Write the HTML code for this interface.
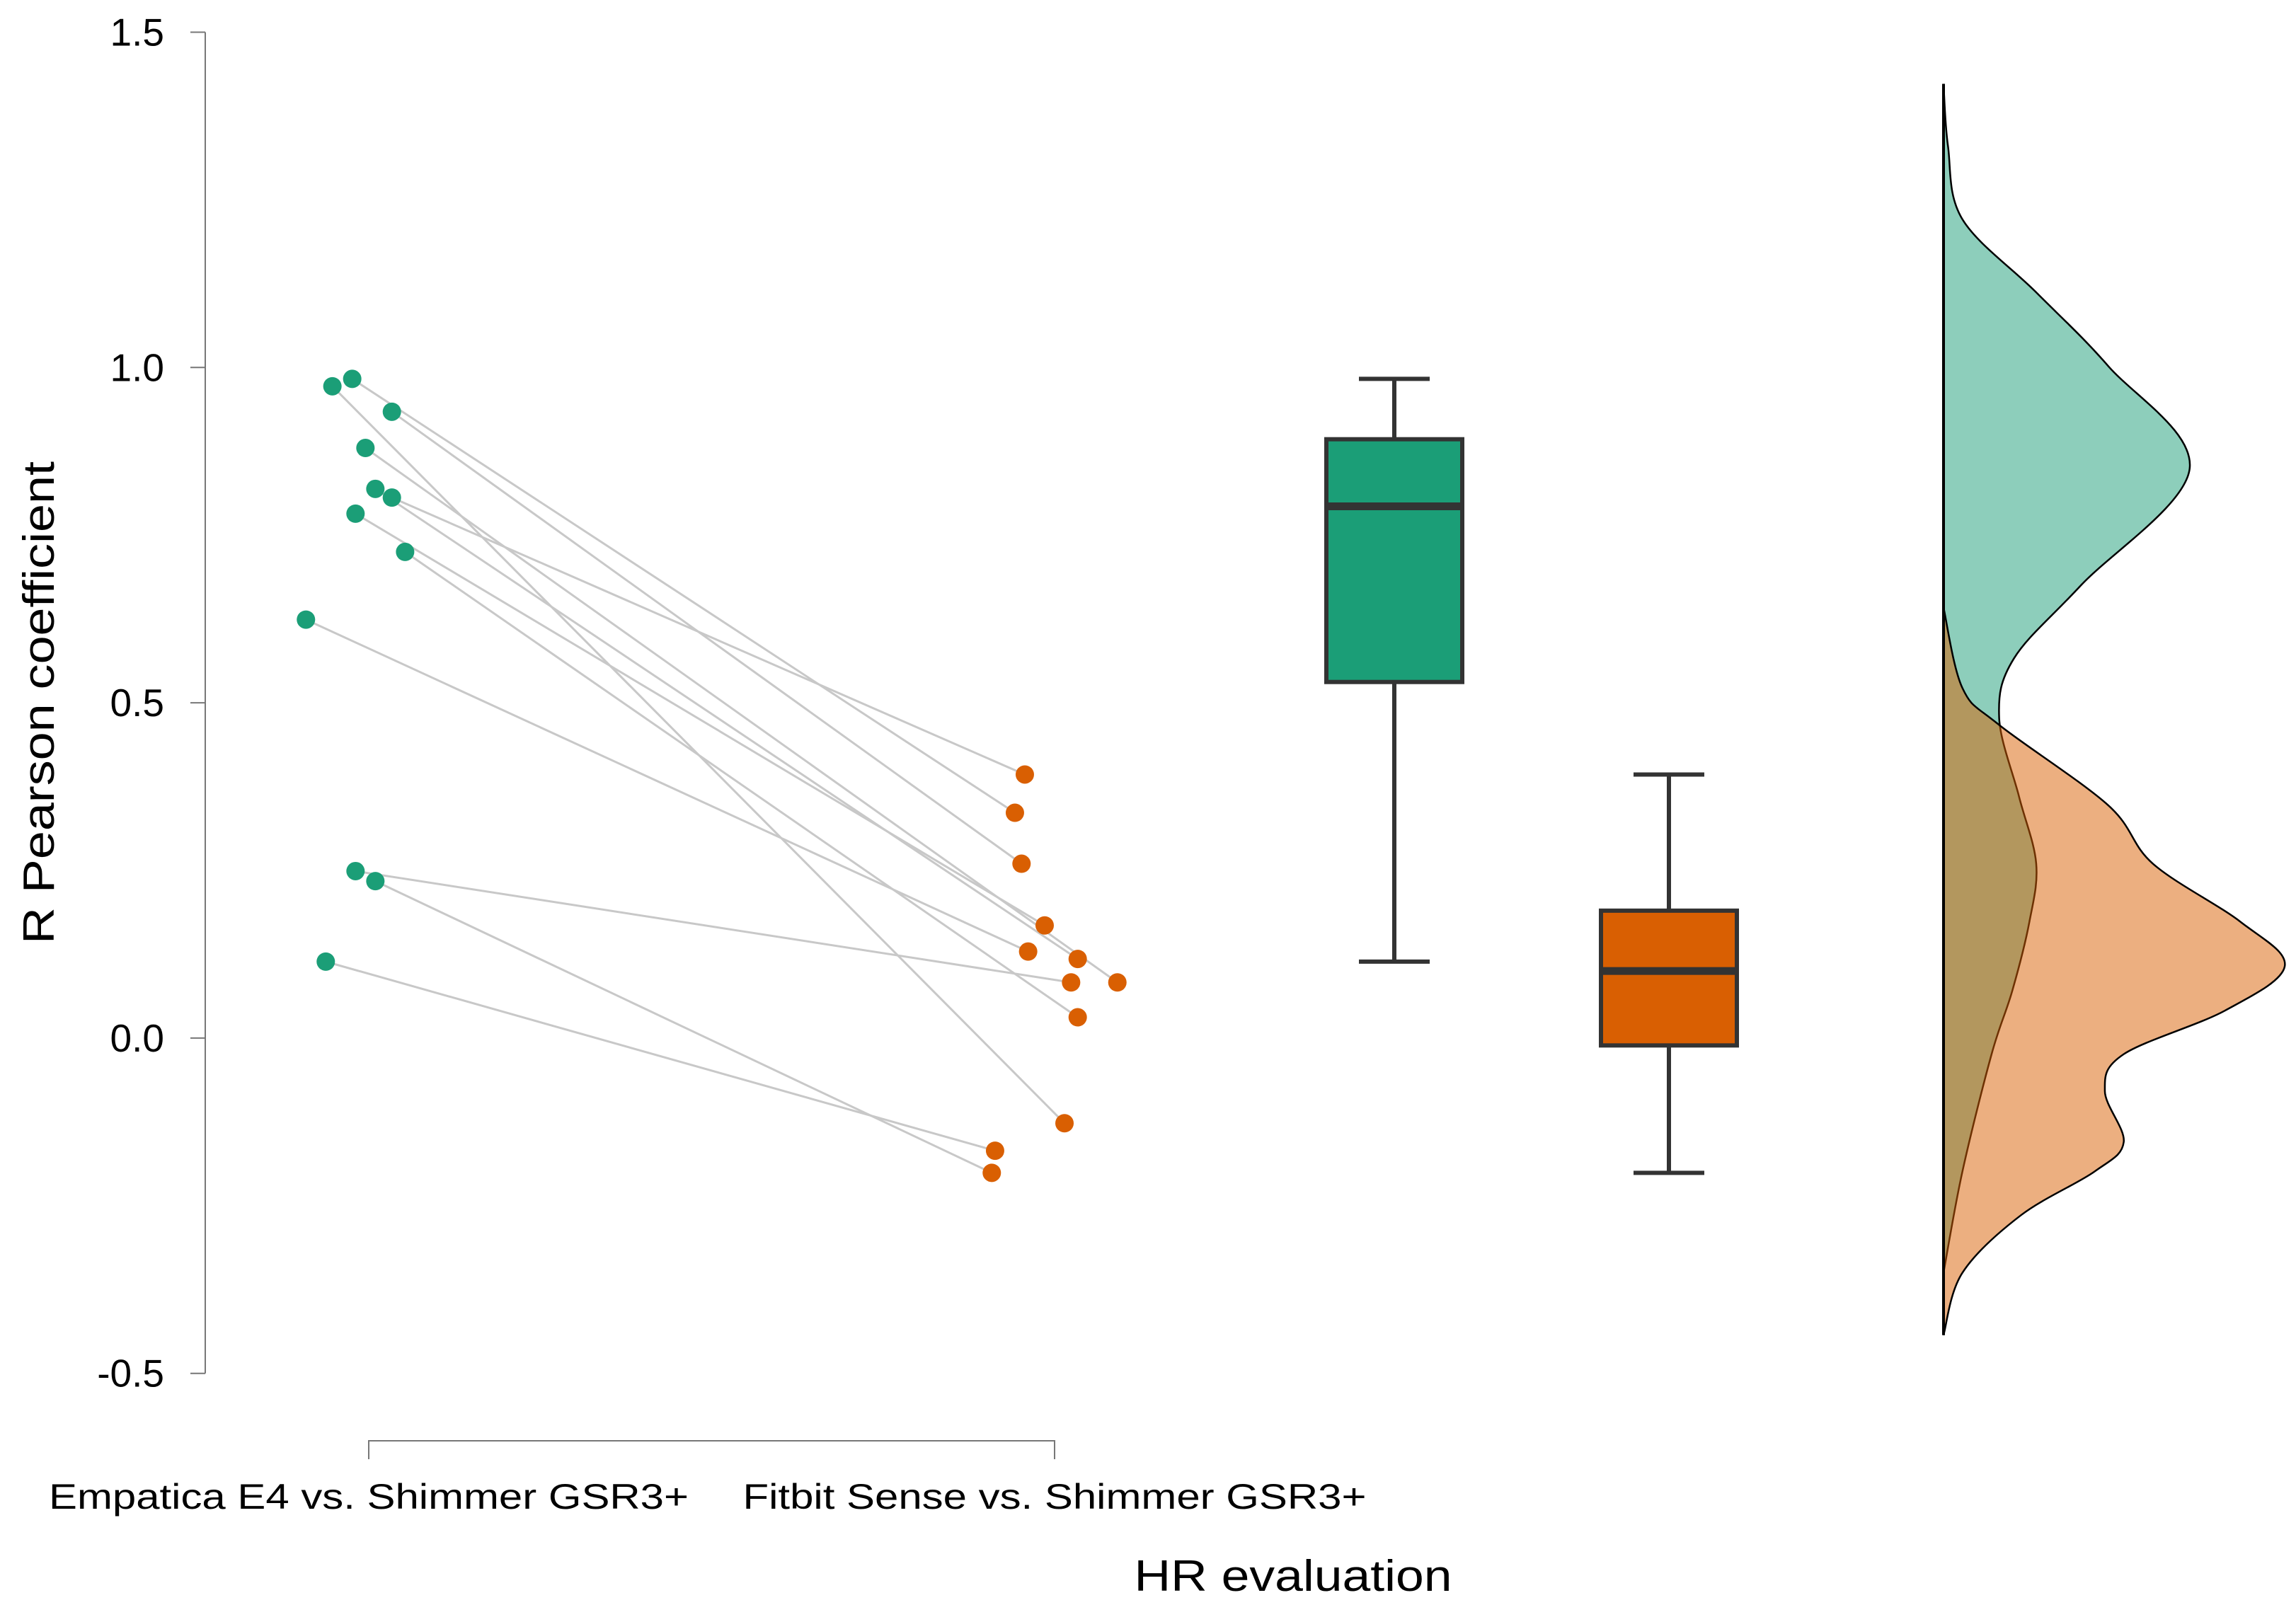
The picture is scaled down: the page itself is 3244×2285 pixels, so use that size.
<!DOCTYPE html>
<html><head><meta charset="utf-8"><style>
html,body{margin:0;padding:0;background:#fff;}
svg{display:block;}
text{font-family:"Liberation Sans",Arial,sans-serif;fill:#000;}
</style></head><body>
<svg id="chart" width="3244" height="2285" viewBox="0 0 3244 2285" xmlns="http://www.w3.org/2000/svg">
<g id="axes"></g>
<g id="lines"></g>
<g id="points"></g>
<g id="boxes"></g>
<g id="dens"></g>
<text x="0" y="0" font-size="62" text-anchor="middle" transform="translate(76,993) rotate(-90)" textLength="682" lengthAdjust="spacingAndGlyphs">R Pearson coefficient</text>
<text x="1827" y="2248" font-size="62" text-anchor="middle" textLength="449" lengthAdjust="spacingAndGlyphs">HR evaluation</text>
</svg>
<script>
const categories = ["Empatica E4 vs. Shimmer GSR3+", "Fitbit Sense vs. Shimmer GSR3+"];
const yTicks = [1.5, 1.0, 0.5, 0.0, -0.5];
const yTickLabels = ["1.5", "1.0", "0.5", "0.0", "-0.5"];
const empatica = [0.983, 0.934, 0.972, 0.880, 0.819, 0.806, 0.782, 0.725, 0.624, 0.249, 0.234, 0.114];
const fitbit   = [0.336, 0.260, -0.127, 0.083, 0.118, 0.393, 0.168, 0.031, 0.129, 0.083, -0.201, -0.168];
const jitterE = [-0.05, 0.07, -0.11, -0.01, 0.02, 0.07, -0.04, 0.11, -0.19, -0.04, 0.02, -0.13];
const jitterF = [-0.12, -0.10, 0.03, 0.19, 0.07, -0.09, -0.03, 0.07, -0.08, 0.05, -0.19, -0.18];
const boxE = {min:0.114, q1:0.531, med:0.793, q3:0.893, max:0.983};
const boxF = {min:-0.201, q1:-0.011, med:0.100, q3:0.190, max:0.393};
const densE = [[1.423,0],[1.33,0.013],[1.221,0.055],[1.112,0.27],[1.002,0.48],[0.849,0.717],[0.675,0.40],[0.566,0.205],[0.478,0.162],[0.36,0.22],[0.26,0.27],[0.173,0.25],[0.07,0.2],[-0.024,0.14],[-0.199,0.055],[-0.35,0]];
const densF = [[0.642,0],[0.522,0.055],[0.467,0.162],[0.347,0.48],[0.26,0.61],[0.173,0.866],[0.107,0.994],[0.041,0.82],[-0.024,0.525],[-0.079,0.47],[-0.155,0.525],[-0.199,0.44],[-0.264,0.226],[-0.35,0.055],[-0.443,0]];

const NS="http://www.w3.org/2000/svg";
const yOf = v => 45.5 + (1.5 - v) * 947.6;
const xCat = i => [521, 1490][i];
const xUnit = 467;
const xBox = [1970, 2358];
const densBase = 2746, densScale = 485;
function mk(tag, attrs, parent){const e=document.createElementNS(NS,tag);for(const k in attrs)e.setAttribute(k,attrs[k]);parent.appendChild(e);return e;}

const axes=document.getElementById('axes');
let ax=mk('line',{x1:290,y1:yOf(1.5),x2:290,y2:yOf(-0.5),stroke:'#777','stroke-width':2},axes);


yTicks.forEach((t,i)=>{
  const tk=mk('line',{x1:269,y1:yOf(t),x2:290,y2:yOf(t),stroke:'#777','stroke-width':2},axes);
  
  
  const tl=mk('text',{x:232,y:yOf(t)+19,'font-size':55,'text-anchor':'end'},axes);
  tl.textContent=yTickLabels[i];
  
  
});
const br=mk('path',{d:`M${xCat(0)},2062 V2036 H${xCat(1)} V2062`,fill:'none',stroke:'#777','stroke-width':2},axes);


categories.forEach((c,i)=>{
  const t=mk('text',{x:xCat(i),y:2132,'font-size':50,'text-anchor':'middle',textLength:[904,881][i],lengthAdjust:'spacingAndGlyphs'},axes);
  t.textContent=c;
  
  
});

const lines=document.getElementById('lines'), pts=document.getElementById('points');
empatica.forEach((v,i)=>{
  const x1=xCat(0)+jitterE[i]*xUnit, x2=xCat(1)+jitterF[i]*xUnit;
  const l=mk('line',{x1:x1,y1:yOf(v),x2:x2,y2:yOf(fitbit[i]),stroke:'#c8c8c8','stroke-width':3},lines);
  
  
});
empatica.forEach((v,i)=>{
  const c=mk('circle',{cx:xCat(0)+jitterE[i]*xUnit,cy:yOf(v),r:13,fill:'#1b9e77'},pts);
  
  
});
fitbit.forEach((v,i)=>{
  const c=mk('circle',{cx:xCat(1)+jitterF[i]*xUnit,cy:yOf(v),r:13,fill:'#d95f02'},pts);
  
  
});

const boxes=document.getElementById('boxes');
[[boxE,'#1b9e77','empatica'],[boxF,'#d95f02','fitbit']].forEach(([b,col,nm],i)=>{
  const cx=xBox[i], hw=96, cw=50;
  const g=mk('g',{},boxes);
  
  
  mk('line',{x1:cx,y1:yOf(b.max),x2:cx,y2:yOf(b.min),stroke:'#333','stroke-width':6},g);
  mk('line',{x1:cx-cw,y1:yOf(b.max),x2:cx+cw,y2:yOf(b.max),stroke:'#333','stroke-width':6},g);
  mk('line',{x1:cx-cw,y1:yOf(b.min),x2:cx+cw,y2:yOf(b.min),stroke:'#333','stroke-width':6},g);
  mk('rect',{x:cx-hw,y:yOf(b.q3),width:2*hw,height:yOf(b.q1)-yOf(b.q3),fill:col,stroke:'#333','stroke-width':6},g);
  mk('line',{x1:cx-hw,y1:yOf(b.med),x2:cx+hw,y2:yOf(b.med),stroke:'#333','stroke-width':11},g);
});

function smoothPath(p){
  let d=`M${p[0][0]},${p[0][1]}`;
  for(let i=0;i<p.length-1;i++){
    const p0=p[Math.max(0,i-1)],p1=p[i],p2=p[i+1],p3=p[Math.min(p.length-1,i+2)];
    const c1=[p1[0]+(p2[0]-p0[0])/6,p1[1]+(p2[1]-p0[1])/6], c2=[p2[0]-(p3[0]-p1[0])/6,p2[1]-(p3[1]-p1[1])/6];
    d+=` C${c1[0]},${c1[1]} ${c2[0]},${c2[1]} ${p2[0]},${p2[1]}`;
  }
  return d;
}
const dens=document.getElementById('dens');
[[densE,'#1b9e77','empatica-density'],[densF,'#d95f02','fitbit-density']].forEach(([ds,col,nm])=>{
  const p=ds.map(([v,d])=>[densBase+d*densScale,yOf(v)]);
  const path=mk('path',{d:smoothPath(p)+` L${densBase},${p[p.length-1][1]} L${densBase},${p[0][1]} Z`,fill:col,'fill-opacity':0.5,stroke:'#000','stroke-width':2.5},dens);
  
  
});
const bl=mk('line',{x1:densBase,y1:yOf(densE[0][0]),x2:densBase,y2:yOf(densF[densF.length-1][0]),stroke:'#000','stroke-width':4},dens);


</script>
</body></html>
